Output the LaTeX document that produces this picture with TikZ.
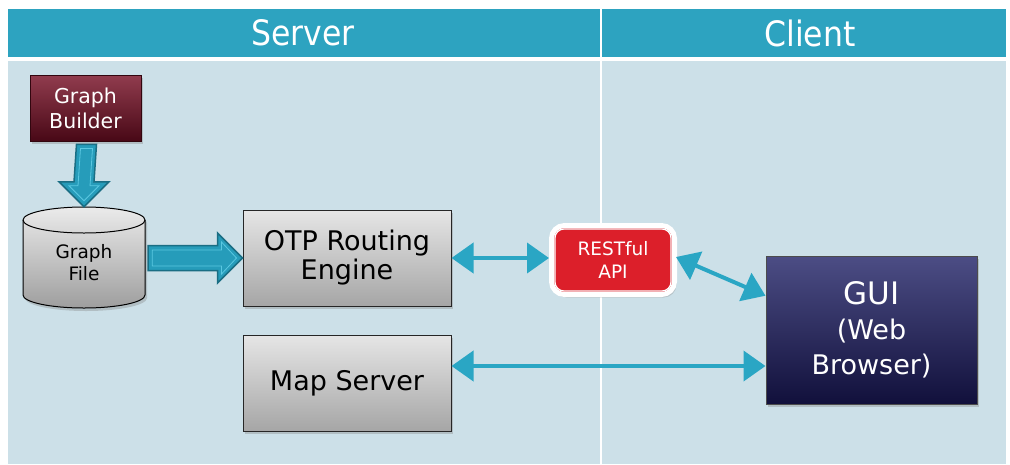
\documentclass[tikz,border=0pt]{standalone}
\usepackage{fontspec}
\setmainfont{DejaVu Sans}
\newfontfamily\headfont{DejaVu Sans Condensed}
\usetikzlibrary{calc,arrows.meta,shadows}
\definecolor{headc}{RGB}{45,163,192}
\definecolor{bodyc}{RGB}{204,224,232}
\definecolor{arrc}{RGB}{42,166,196}
\definecolor{fatc}{RGB}{38,156,186}
\definecolor{fatdark}{RGB}{26,110,132}
\definecolor{fatlight}{RGB}{90,200,225}
\definecolor{gbtop}{RGB}{145,60,78}
\definecolor{gbbot}{RGB}{72,8,22}
\definecolor{guitop}{RGB}{76,77,133}
\definecolor{guibot}{RGB}{17,16,59}
\definecolor{restc}{RGB}{220,31,42}
\begin{document}
\begin{tikzpicture}[x=1pt,y=-1pt,
  shade/.style={drop shadow={opacity=0.35,shadow xshift=2pt,shadow yshift=-3pt}},
  graybox/.style={draw=black!85,line width=1pt,top color=black!10,bottom color=black!35,shade,
    minimum width=208pt,minimum height=96pt,align=center,font=\fontsize{27}{29}\selectfont},
  dbl/.style={draw=arrc,line width=4pt,{Triangle[length=22pt,width=30pt]}-{Triangle[length=22pt,width=30pt]}},
  fat/.style={fill=fatc,draw=fatdark,line width=1.5pt,line join=miter},
  fatin/.style={draw=fatlight,line width=0.8pt}]
\useasboundingbox (0,0) rectangle (1010,464);
\fill[white] (0,0) rectangle (1010,464);
% header and body
\fill[headc] (8,9) rectangle (1006,57);
\fill[bodyc] (8,61) rectangle (1006,464);
\draw[white,line width=1.5pt] (601,9) -- (601,464);
\node[text=white,font=\headfont\fontsize{35}{40}\selectfont] (hs) at (303,33) {Server};
\node[text=white,font=\headfont\fontsize{35}{40}\selectfont] (hc) at (810,33) {Client};
% Graph builder
\node[draw=gbbot!70!black,line width=0.8pt,top color=gbtop,bottom color=gbbot,shade,minimum width=111pt,minimum height=66pt,
  text=white,align=center,font=\fontsize{20.5}{25}\selectfont] (gb) at (85.5,108) {Graph\\Builder};
% Graph file cylinder
\node[minimum width=122pt,minimum height=101pt] (gf) at (84,257.5) {};
\path[top color=black!8,bottom color=black!38,draw=black,line width=1pt,shade]
  (23,220) -- (23,295) arc[start angle=180,end angle=0,x radius=61,y radius=13]
  -- (145,220) arc[start angle=0,end angle=-180,x radius=61,y radius=13] -- cycle;
\draw[black,line width=1pt] (23,220) arc[start angle=180,end angle=0,x radius=61,y radius=13];
\node[align=center,font=\fontsize{18.5}{22}\selectfont] (gft) at (84,263) {Graph\\File};
% fat arrow down
\coordinate (s1) at ($(gb.south)+(1,3)$);
\coordinate (t1) at (gf.north);
\path[fat] ($(s1)+(-10,0)$) -- ($(s1)+(10,0)$) -- ($(t1)+(10,-25)$) -- ($(t1)+(25,-25)$) -- (t1)
  -- ($(t1)+(-25,-25)$) -- ($(t1)+(-10,-25)$) -- cycle;
\path[fatin] ($(s1)+(-6,4)$) -- ($(s1)+(6,4)$) -- ($(t1)+(6,-21)$) -- ($(t1)+(15,-21)$) -- ($(t1)+(0,-6)$)
  -- ($(t1)+(-15,-21)$) -- ($(t1)+(-6,-21)$) -- cycle;
% OTP and map server
\node[graybox] (otp) at (347,258) {OTP Routing\\Engine};
\node[graybox] (ms) at (347,383) {Map Server};
% fat arrow right
\coordinate (s2) at ($(gf.east)+(3,0.5)$);
\coordinate (t2) at (otp.west);
\path[fat] ($(s2)+(0,-12.5)$) -- ($(s2)+(0,12.5)$) -- ($(t2)+(-25,12.5)$) -- ($(t2)+(-25,25)$) -- (t2)
  -- ($(t2)+(-25,-25)$) -- ($(t2)+(-25,-12.5)$) -- cycle;
\path[fatin] ($(s2)+(4,-8)$) -- ($(s2)+(4,8)$) -- ($(t2)+(-21,8)$) -- ($(t2)+(-21,16)$) -- ($(t2)+(-6,0)$)
  -- ($(t2)+(-21,-16)$) -- ($(t2)+(-21,-8)$) -- cycle;
% REST API
\node[fill=restc,draw=white,line width=5pt,rounded corners=13pt,minimum width=123pt,minimum height=69pt,
  drop shadow={opacity=0.3,shadow xshift=2pt,shadow yshift=-3pt},
  text=white,align=center,font=\fontsize{18.5}{23}\selectfont] (rest) at (613,260) {RESTful\\API};
\draw[white,line width=1.2pt,rounded corners=9pt] ($(rest.north west)+(6,6)$) rectangle ($(rest.south east)+(-6,-6)$);
% GUI
\node[draw=black!70,line width=1pt,top color=guitop,bottom color=guibot,shade,minimum width=211pt,minimum height=148pt,
  text=white,align=center,font=\fontsize{27}{35}\selectfont] (gui) at (871.5,330) {{\fontsize{31}{36}\selectfont GUI}\\(Web\\Browser)};
% connectors
\draw[dbl] (otp.east) -- (otp.east -| rest.west);
\coordinate (gin) at ($(gui.north west)!0.27!(gui.south west)$);
\draw[dbl] ($(rest.east)+(-1,-3)$) -- (gin);
\coordinate (my) at (600,366);
\draw[dbl] (ms.east |- my) -- (gui.west |- my);
\end{tikzpicture}
\end{document}
